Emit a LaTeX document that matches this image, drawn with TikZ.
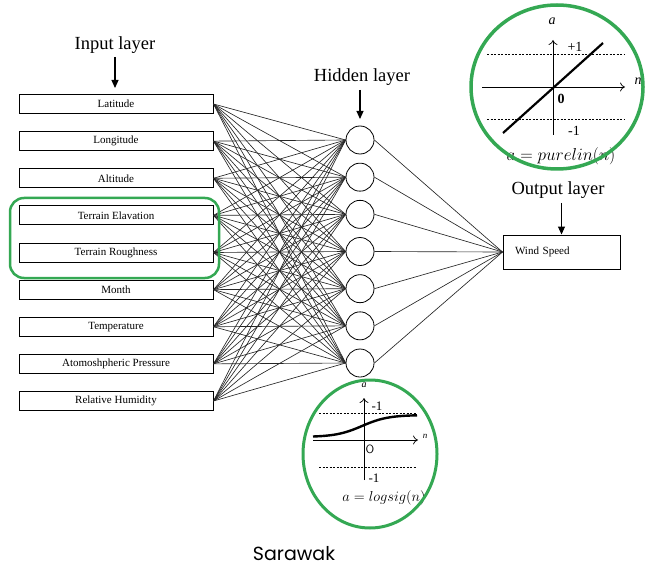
\documentclass[tikz,border=0pt]{standalone}
\usepackage{fontspec}
\setmainfont{Liberation Serif}
\newfontfamily\sarafont{Poppins}
\usetikzlibrary{arrows.meta}
\definecolor{ringgreen}{RGB}{52,168,83}
\begin{document}
\begin{tikzpicture}[x=1pt,y=-1pt,
 inbox/.style={draw, line width=1pt, minimum width=194pt, minimum height=19pt, inner sep=0pt, font=\fontsize{11}{12}\selectfont},
 hid/.style={draw, circle, line width=0.8pt, minimum size=28pt, inner sep=0pt},
 conn/.style={line width=0.65pt, black!85},
 title/.style={font=\fontsize{18.5}{20}\selectfont},
 layerarrow/.style={line width=1.1pt, -{Triangle[length=8pt,width=7pt]}},
 ring/.style={draw=ringgreen, line width=3.5pt},
 axisln/.style={line width=0.7pt, -{To[length=5pt,width=9pt]}},
 dashln/.style={line width=0.6pt, dash pattern=on 2pt off 1.5pt}]
\useasboundingbox (0,0) rectangle (652,569);

% input boxes
\foreach \t [count=\i] in {Latitude, Longitude, Altitude, Terrain Elavation, Terrain Roughness, Month, Temperature, Atomoshpheric Pressure, Relative Humidity}
  \node[inbox] (in\i) at (116,{104+37.125*(\i-1)}) {\t};

% hidden nodes
\foreach \j in {1,...,7}
  \node[hid] (h\j) at (360,{140+37.17*(\j-1)}) {};

% output box
\node[draw, line width=1pt, minimum width=117pt, minimum height=34pt, text width=93pt, inner xsep=12pt, inner ysep=0pt, align=left, font=\fontsize{11}{12}\selectfont] (ws) at (561.5,252) {Wind Speed};

% connections
\foreach \i in {1,...,9}
  \foreach \j in {1,...,7}
    \draw[conn] (in\i.east) -- (h\j.west);
\foreach \j in {1,...,7}
  \draw[conn] (h\j.east) -- (ws.west);

% layer labels
\node[title] (inlab) at (115,45) {Input layer};
\coordinate (inA) at (115,57);
\coordinate (inB) at (115,88);
\draw[layerarrow] (inA) -- (inB);

\node[title] (hidlab) at (362,77) {Hidden layer};
\coordinate (hA) at (360,90);
\coordinate (hB) at (360,119);
\draw[layerarrow] (hA) -- (hB);

\node[title] (outlab) at (558,190) {Output layer};
\coordinate (oA) at (561.5,203);
\draw[layerarrow] (oA) -- (ws.north);

% green highlight around terrain inputs
\draw[draw=ringgreen, line width=2.5pt, rounded corners=14pt] (10,198) rectangle (219,278);

% purelin inset
\coordinate (pL) at (482,87);
\coordinate (pR) at (625,87);
\coordinate (pB) at (553,135);
\coordinate (pT) at (553,40);
\draw[axisln] (pL) -- (pR);
\draw[axisln] (pB) -- (pT);
\draw[dashln] (487,54) -- (625,54);
\draw[dashln] (487,119) -- (625,119);
\draw[line width=2.2pt] (503,133) -- (603,43);
\node[font=\fontsize{14}{15}\selectfont\itshape] (pa) at (552,21) {a};
\node[font=\fontsize{14}{15}\selectfont\itshape] (pn) at (638,81) {n};
\node[font=\fontsize{14}{15}\selectfont] (pp1) at (575,47) {+1};
\node[font=\fontsize{14}{15}\selectfont\bfseries] (p0) at (561,99) {0};
\node[font=\fontsize{14}{15}\selectfont] (pm1) at (574,131) {-1};
\node[font=\fontsize{17}{18}\selectfont] (pf) at (561,156) {$a = purelin(n)$};
\draw[ring] (557,87) ellipse [x radius=86, y radius=82];

% logsig inset
\coordinate (lL) at (313,440);
\coordinate (lR) at (418,440);
\coordinate (lB) at (364,480);
\coordinate (lT) at (364,398);
\draw[axisln] (lL) -- (lR);
\draw[axisln] (lB) -- (lT);
\draw[dashln] (319,413) -- (416,413);
\draw[dashln] (319,467) -- (416,467);
\draw[line width=2.4pt] plot[domain=313:417, samples=60, smooth] (\x, {437-22/(1+exp(-(\x-362)/13))});
\node[font=\fontsize{10}{11}\selectfont\itshape] (la) at (364,385) {a};
\node[font=\fontsize{9}{10}\selectfont\itshape] (ln) at (425,436) {n};
\node[font=\fontsize{13}{14}\selectfont] (lp1) at (377,406) {-1};
\node[font=\fontsize{12}{13}\selectfont\sffamily] (l0) at (370,449) {O};
\node[font=\fontsize{13}{14}\selectfont] (lm1) at (374,478) {-1};
\node[font=\fontsize{14}{15}\selectfont] (lf) at (384,498) {$a = logsig(n)$};
\draw[draw=ringgreen, line width=3pt] (370,454) ellipse [x radius=67, y radius=74];

% caption
\node[font=\sarafont\fontsize{19}{21}\selectfont] (cap) at (294,554) {Sarawak};
\end{tikzpicture}
\end{document}
